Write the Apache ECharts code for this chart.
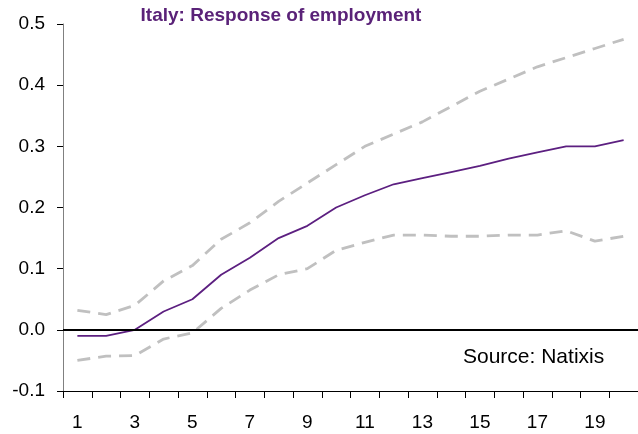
<!DOCTYPE html>
<html><head><meta charset="utf-8">
<script src="https://cdn.jsdelivr.net/npm/echarts@6/dist/echarts.min.js"></script>
<style>html,body{margin:0;padding:0;background:#fff}#c{width:638px;height:434px}</style>
</head><body><div id="c"></div>
<script>
var categories = ['1','2','3','4','5','6','7','8','9','10','11','12','13','14','15','16','17','18','19','20'];
var response = [-0.01,-0.01,0.0,0.03,0.05,0.09,0.118,0.15,0.17,0.20,0.22,0.238,0.248,0.258,0.268,0.28,0.29,0.30,0.30,0.31];
var upperBand = [0.032,0.025,0.04,0.08,0.105,0.148,0.175,0.21,0.24,0.27,0.30,0.32,0.34,0.365,0.39,0.41,0.43,0.445,0.46,0.475];
var lowerBand = [-0.05,-0.043,-0.042,-0.015,-0.005,0.035,0.065,0.09,0.10,0.13,0.143,0.155,0.155,0.153,0.153,0.155,0.155,0.162,0.145,0.153];

var chart = echarts.init(document.getElementById('c'), null, {renderer:'canvas'});
var font = 'Liberation Sans, Arial, sans-serif';
chart.setOption({
  animation:false,
  title:{text:'Italy: Response of employment', left:276, top:1, textAlign:'center',
    textStyle:{fontFamily:font, fontSize:19, fontWeight:'bold', color:'#5a2278'}},
  grid:{left:63, right:0, top:24, bottom:43, containLabel:false},
  graphic:[{type:'text', left:463, top:347, style:{text:'Source: Natixis', fontFamily:font, fontSize:21, fill:'#000'}}],
  xAxis:{type:'category', data:categories, boundaryGap:true,
    axisLine:{onZero:false, lineStyle:{color:'#000', width:1}},
    axisTick:{show:true, length:7, interval:0, lineStyle:{color:'#000'}},
    axisLabel:{interval:1, fontFamily:font, fontSize:19, color:'#000', margin:22},
    splitLine:{show:false}},
  yAxis:{type:'value', min:-0.1, max:0.5, interval:0.1,
    axisLine:{show:true, lineStyle:{color:'#808080', width:1}},
    axisTick:{show:true, length:6, lineStyle:{color:'#000'}},
    axisLabel:{fontFamily:font, fontSize:19, color:'#000', margin:18, formatter:function(v){return v.toFixed(1);}},
    splitLine:{show:false}},
  series:[
    {type:'line', data:upperBand, symbol:'none', lineStyle:{color:'#c0c0c0', width:2.8, type:[13,8]}},
    {type:'line', data:lowerBand, symbol:'none', lineStyle:{color:'#c0c0c0', width:2.8, type:[13,8]}},
    {type:'line', data:response, symbol:'none', lineStyle:{color:'#5c1f80', width:1.8},
      markLine:{silent:true, symbol:'none', label:{show:false}, lineStyle:{color:'#000', width:1.8, type:'solid'},
        data:[{yAxis:0}]}}
  ]
});
</script></body></html>
